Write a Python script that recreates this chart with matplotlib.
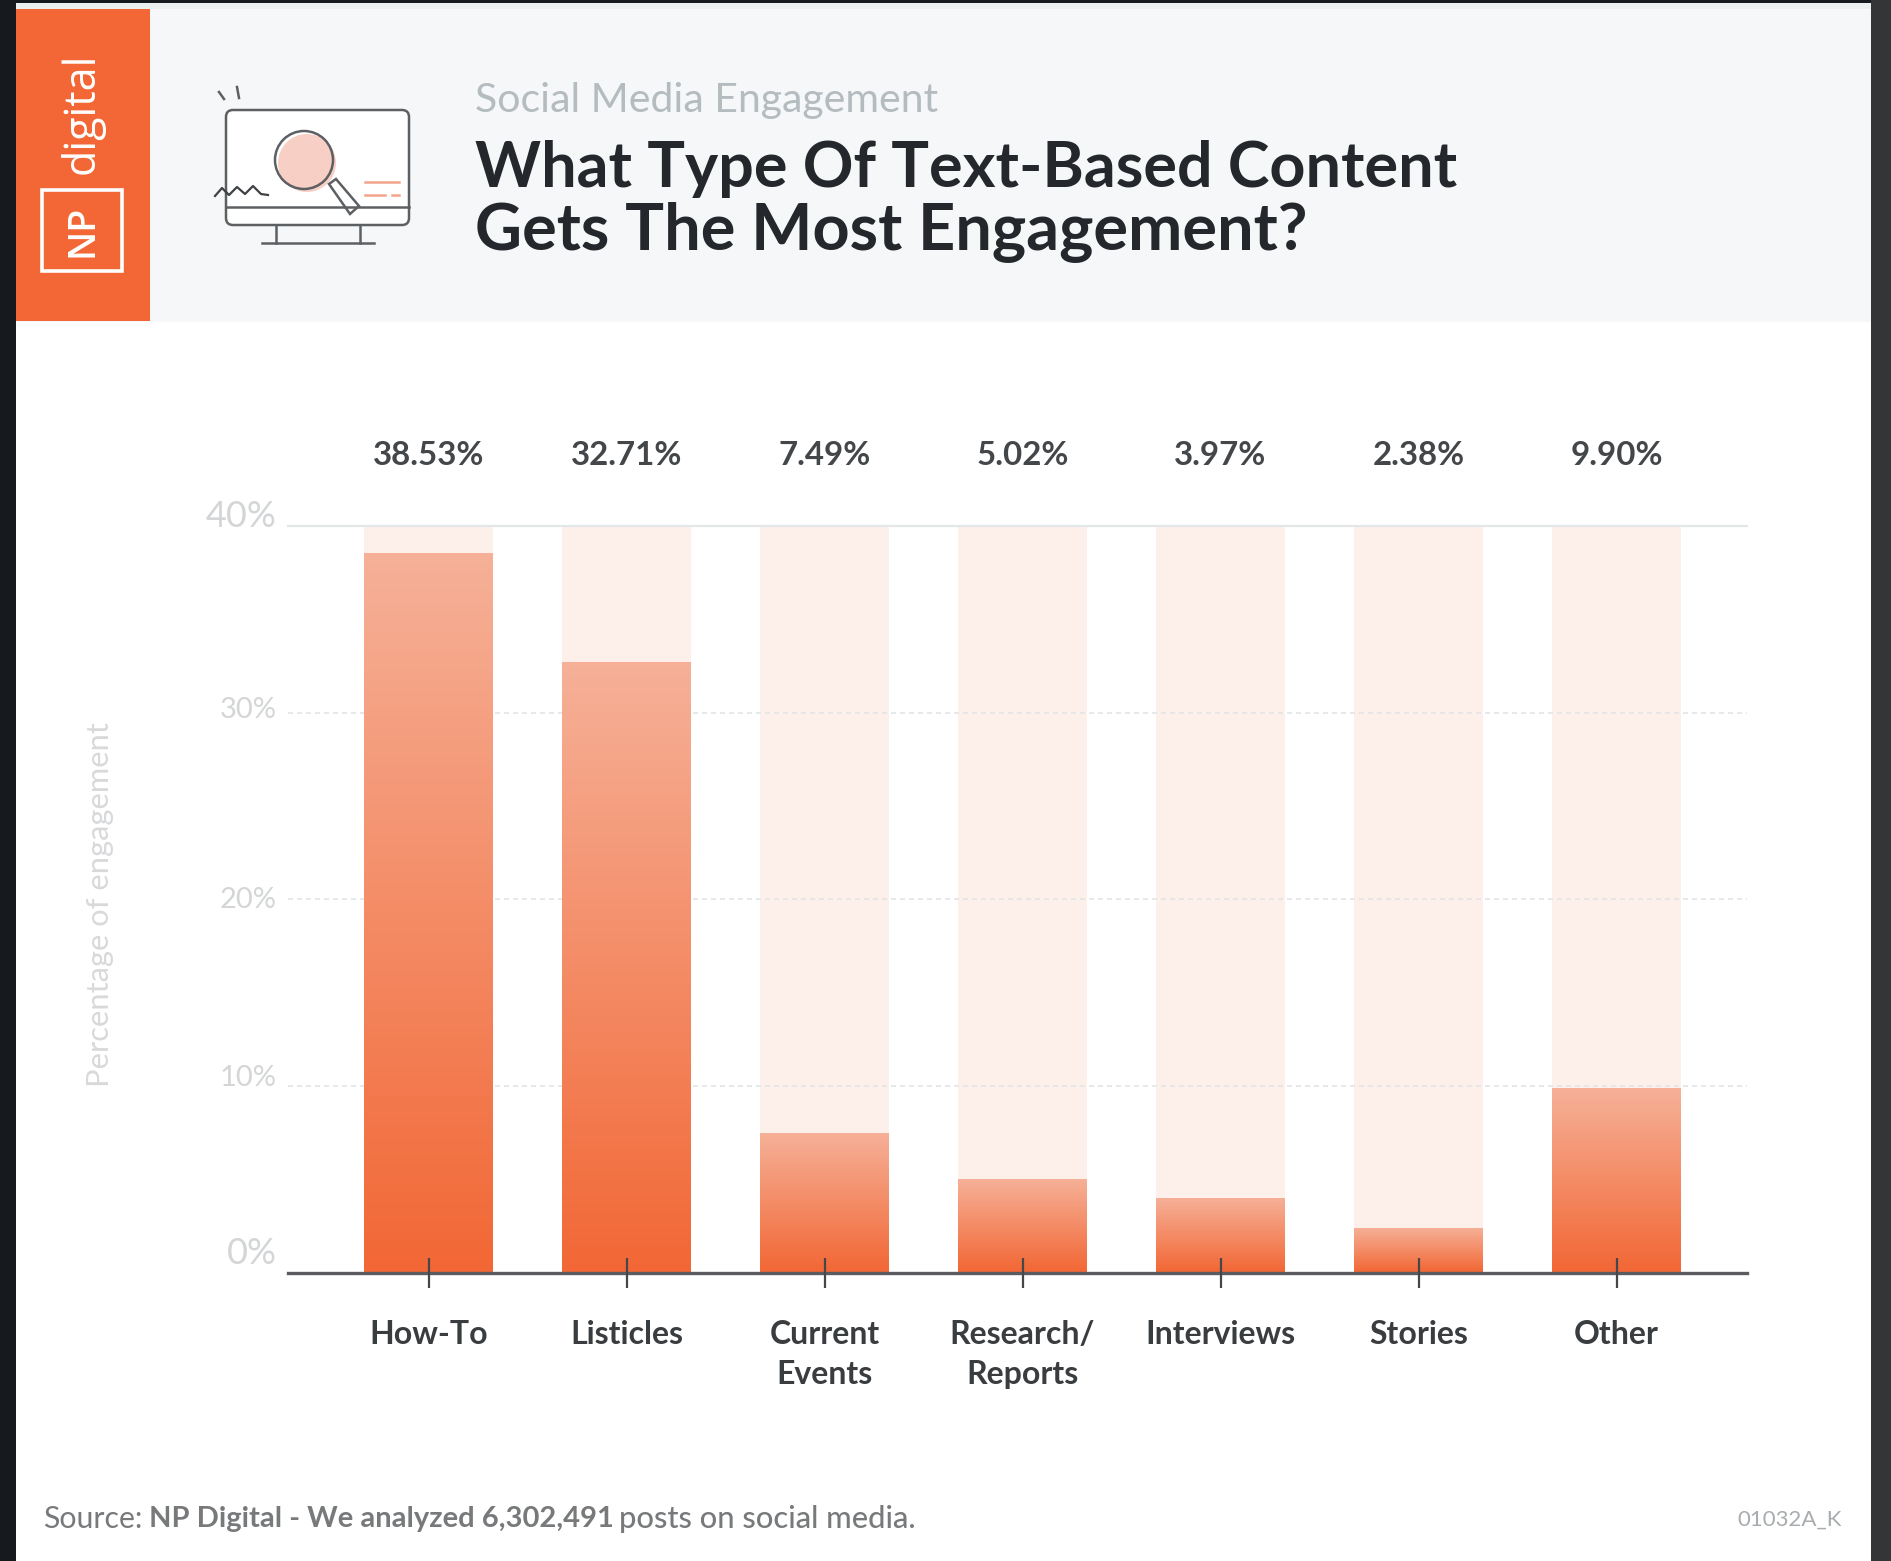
import numpy as np
import matplotlib
matplotlib.use("Agg")
import matplotlib.pyplot as plt
from matplotlib.colors import LinearSegmentedColormap
from matplotlib.patches import Rectangle, FancyBboxPatch, Circle, Polygon

W, H = 1891, 1561

categories = ["How-To", "Listicles", "Current\nEvents", "Research/\nReports",
              "Interviews", "Stories", "Other"]
engagement = [38.53, 32.71, 7.49, 5.02, 3.97, 2.38, 9.90]
value_labels = ["38.53%", "32.71%", "7.49%", "5.02%", "3.97%", "2.38%", "9.90%"]
y_ticks = [0, 10, 20, 30, 40]
y_tick_labels = ["0%", "10%", "20%", "30%", "40%"]

ORANGE = "#f26735"
FONT = "Lato"
plt.rcParams["font.family"] = [FONT, "DejaVu Sans"]

fig = plt.figure(figsize=(W / 100, H / 100), dpi=100, facecolor="#16191e")

# Page layer in pixel coordinates: panel, header band, logo and icon
page = fig.add_axes([0, 0, 1, 1])
page.set_xlim(0, W)
page.set_ylim(H, 0)
page.axis("off")
page.add_patch(Rectangle((1871, 0), 20, H, fc="#343536", ec="none"))
page.add_patch(Rectangle((16, 3), 1855, H, fc="#ffffff", ec="none"))
page.add_patch(Rectangle((16, 3), 1855, 6, fc="#eceef0", ec="none"))
page.add_patch(Rectangle((16, 9), 1855, 313, fc="#f6f7f9", ec="none"))
page.add_patch(Rectangle((16, 9), 134, 312, fc=ORANGE, ec="none"))

page.text(82, 113, "digital", color="white", fontsize=31, rotation=90,
          ha="center", va="center", family="Open Sans", weight="medium")
page.add_patch(Rectangle((42, 190), 80, 81, fc="none", ec="white", lw=2.6))
page.text(82, 231, "NP", color="white", fontsize=27, rotation=90, ha="center",
          va="center", family="Open Sans", weight="semibold")

INK = "#5d6063"
page.add_patch(FancyBboxPatch((226, 110), 183, 115, boxstyle="round,pad=0,rounding_size=7",
                              fc="white", ec=INK, lw=1.8))
page.plot([226, 409], [207, 207], color=INK, lw=1.8)
page.plot([276, 276], [225, 243], color=INK, lw=1.8)
page.plot([360, 360], [225, 243], color=INK, lw=1.8)
page.plot([262, 374], [243, 243], color=INK, lw=1.8)
page.plot([219, 224], [92, 99], color=INK, lw=1.8)
page.plot([237, 239], [87, 98], color=INK, lw=1.8)
page.plot([215, 222, 229, 237, 245, 253, 261, 268],
          [196, 188, 195, 187, 194, 186, 194, 195], color="#3f4244", lw=1.6)
page.add_patch(Circle((307, 163), 29, fc="#f8cfc5", ec="none"))
page.add_patch(Circle((304, 160), 29, fc="none", ec=INK, lw=1.8))
page.add_patch(Polygon([[329, 184], [336, 179], [359, 206], [350, 214]],
                       fc="white", ec=INK, lw=1.8))
page.plot([365, 399], [182, 182], color="#f3a58c", lw=1.8)
page.plot([365, 385], [195, 195], color="#f3a58c", lw=1.8)
page.plot([392, 399], [195, 195], color="#f3a58c", lw=1.8)

page.text(475, 100, "Social Media Engagement", color="#b4bcc0", fontsize=29.5,
          va="center", ha="left")
page.text(475, 169, "What Type Of Text-Based Content", color="#24272b", fontsize=45.3,
          weight="bold", va="center", ha="left")
page.text(475, 232, "Gets The Most Engagement?", color="#24272b", fontsize=46.7,
          weight="bold", va="center", ha="left")

# Bar chart: y runs 0-40 %, bars are spaced one unit apart
ax = fig.add_axes([288 / W, 1 - 1272.5 / H, (1747 - 288) / W, (1272.5 - 526) / H])
ax.patch.set_alpha(0)
x = np.arange(len(categories))
bar_w = 0.65

for s in ["left", "right"]:
    ax.spines[s].set_visible(False)
ax.spines["top"].set_color("#e3e7e8")
ax.spines["top"].set_linewidth(1.6)
ax.spines["bottom"].set_color("#5a5c5f")
ax.spines["bottom"].set_linewidth(2.4)
ax.spines["bottom"].set_zorder(2.4)

ax.bar(x, [40] * len(x), width=bar_w, color="#fdf0eb", zorder=1)

for g in y_ticks[1:-1]:
    ax.axhline(g, color="#e2e5e6", lw=1.2, ls=(0, (3, 2.4)), zorder=1.2)

fade = LinearSegmentedColormap.from_list("fade", ["#f6b198", ORANGE])
ramp = np.linspace(0, 1, 256).reshape(-1, 1)
for xi, v in zip(x, engagement):
    bar = ax.bar(xi, v, width=bar_w, color=ORANGE, zorder=1.5)[0]
    img = ax.imshow(ramp, cmap=fade, aspect="auto", origin="upper", zorder=1.6,
                    extent=[xi - bar_w / 2, xi + bar_w / 2, 0, v])
    img.set_clip_path(bar)
ax.set_xlim(-0.7096, 6.659)
ax.set_ylim(0, 40)

ax.set_axisbelow(False)
ax.set_xticks(x)
ax.set_xticklabels(categories, fontsize=23, weight="bold", color="#3a3d40",
                   linespacing=1.44)
ax.tick_params(axis="x", direction="inout", length=21, width=1.6, color="#45474a",
               pad=24)
ax.set_yticks([])

# y labels sit a little above their gridlines
offsets = [19, 8, -1, 3, 9]
sizes = [26, 21, 21, 21, 26]
for t, lab, off, fs in zip(y_ticks, y_tick_labels, offsets, sizes):
    ax.annotate(lab, (0, t), xycoords=("axes fraction", "data"),
                xytext=(-8, off * 0.72), textcoords="offset points",
                ha="right", va="center", fontsize=fs, color="#d3d5d6")

for xi, lab in zip(x, value_labels):
    ax.annotate(lab, (xi, 40), xytext=(0, 50.5), textcoords="offset points",
                ha="center", va="center", fontsize=23.8, weight="bold", color="#44474a")

page.text(100, 905, "Percentage of engagement", rotation=90, fontsize=22.2,
          color="#d8d9da", ha="center", va="center")

page.text(43, 1519, "Source:", fontsize=21.8, color="#77797b", va="center", ha="left")
page.text(149, 1519, "NP Digital - We analyzed 6,302,491", fontsize=21, weight="bold",
          color="#77797b", va="center", ha="left")
page.text(619, 1519, "posts on social media.", fontsize=22.2, color="#77797b",
          va="center", ha="left", weight="medium")
page.text(1842, 1520, "01032A_K", fontsize=16, color="#a9acae", va="center", ha="right")

fig.savefig("out.png", dpi=100, facecolor=fig.get_facecolor())
